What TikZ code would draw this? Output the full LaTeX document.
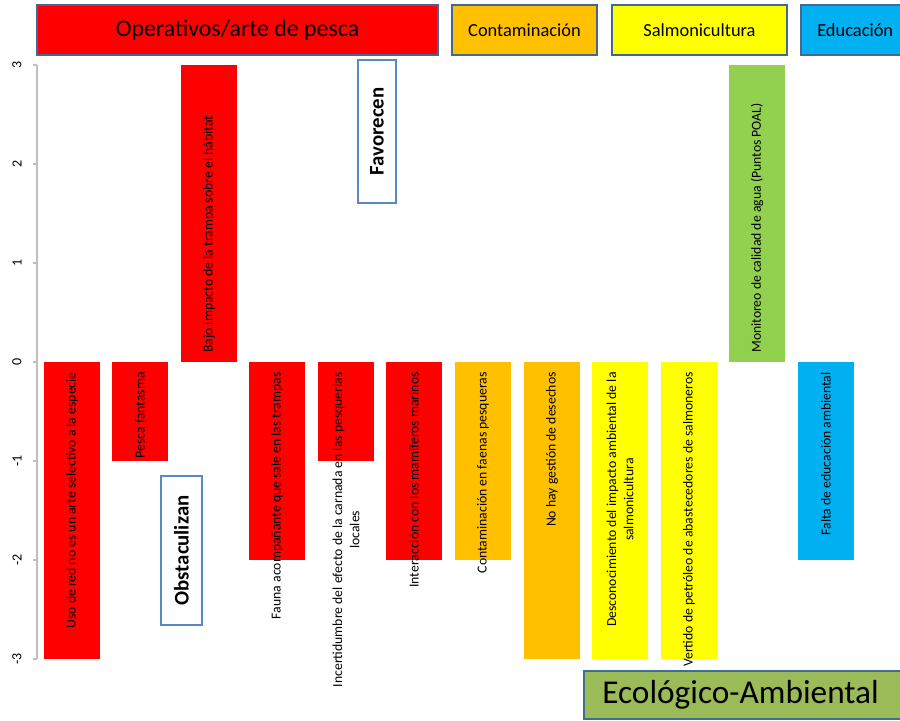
\documentclass[tikz,border=0pt]{standalone}
\usepackage{fontspec}
\setmainfont{Carlito}
\definecolor{cRed}{HTML}{FF0000}
\definecolor{cOrange}{HTML}{FFC000}
\definecolor{cYellow}{HTML}{FFFF00}
\definecolor{cGreen}{HTML}{92D050}
\definecolor{cBlue}{HTML}{00B0F0}
\definecolor{cEco}{HTML}{9BBB59}
\definecolor{cHdrBorder}{HTML}{44679A}
\definecolor{cLblBorder}{HTML}{5A88C2}
\definecolor{cEcoBorder}{HTML}{3F6F8F}
\definecolor{cAxis}{HTML}{BFBFBF}
\begin{document}
\begin{tikzpicture}[x=0.75pt,y=-0.75pt,
  hdr/.style={draw=cHdrBorder, line width=1.6pt},
  hdrtext/.style={inner sep=0pt, text=black},
  lbl/.style={rotate=90, inner sep=0pt, align=center, font=\fontsize{10.3}{12.8}\selectfont},
  tag/.style={draw=cLblBorder, line width=1.5pt, fill=white},
  tagtext/.style={rotate=90, inner sep=0pt, font=\fontsize{15.6}{18}\selectfont\bfseries},
  tick/.style={rotate=90, inner sep=0pt, font=\fontsize{10.5}{12}\selectfont}]
\clip (0,0) rectangle (900,721);
\fill[white] (0,0) rectangle (900,721);

% headers
\draw[hdr, fill=cRed] (37,5) rectangle (438,55);
\node[hdrtext, font=\fontsize{17.9}{20}\selectfont] (hOp) at (237.5,30) {Operativos/arte de pesca};
\draw[hdr, fill=cOrange] (452,5) rectangle (597,55);
\node[hdrtext, font=\fontsize{13.8}{16}\selectfont] (hCo) at (524.5,30) {Contaminación};
\draw[hdr, fill=cYellow] (612,5) rectangle (787,55);
\node[hdrtext, font=\fontsize{13.8}{16}\selectfont] (hSa) at (699.5,30) {Salmonicultura};
\draw[hdr, fill=cBlue] (801,5) rectangle (915,55);
\node[hdrtext, font=\fontsize{13.8}{16}\selectfont, anchor=west] (hEd) at (817,30) {Educación};

% axis
\draw[cAxis, line width=1.1pt] (37,65) -- (37,659);
\foreach \v/\y [count=\i] in {3/65,2/164,1/263,0/362,-1/461,-2/560,-3/659}{
  \draw[cAxis, line width=1.1pt] (33,\y) -- (37,\y);
  \node[tick] (tk\i) at (17,\y) {\v};
}

% bars
\fill[cRed] (44,362) rectangle (100,659);
\fill[cRed] (112,362) rectangle (168,461);
\fill[cRed] (181,65) rectangle (237,362);
\fill[cRed] (249,362) rectangle (305,560);
\fill[cRed] (318,362) rectangle (374,461);
\fill[cRed] (386,362) rectangle (442,560);
\fill[cOrange] (455,362) rectangle (511,560);
\fill[cOrange] (524,362) rectangle (580,659);
\fill[cYellow] (592,362) rectangle (648,659);
\fill[cYellow] (661,362) rectangle (717,659);
\fill[cGreen] (729,65) rectangle (785,362);
\fill[cBlue] (798,362) rectangle (854,560);

% bar labels
\node[lbl, anchor=east] (l1) at (72,372) {Uso de red no es un arte selectivo a la especie};
\node[lbl, anchor=east] (l2) at (140,372) {Pesca fantasma};
\node[lbl, anchor=west] (l3) at (209,353) {Bajo impacto de la trampa sobre el hábitat};
\node[lbl, anchor=east] (l4) at (277,372) {Fauna acompañante que sale en las trampas};
\node[lbl, anchor=east] (l5) at (346,372) {Incertidumbre del efecto de la carnada en las pesquerías\\locales};
\node[lbl, anchor=east] (l6) at (414,372) {Interacción con los mamíferos marinos};
\node[lbl, anchor=east] (l7) at (483,372) {Contaminación en faenas pesqueras};
\node[lbl, anchor=east] (l8) at (552,372) {No hay gestión de desechos};
\node[lbl, anchor=east] (l9) at (620,372) {Desconocimiento del impacto ambiental de la\\salmonicultura};
\node[lbl, anchor=east] (l10) at (689,372) {Vertido de petróleo de abastecedores de salmoneros};
\node[lbl, anchor=west] (l11) at (757,353) {Monitoreo de calidad de agua (Puntos POAL)};
\node[lbl, anchor=east] (l12) at (826,372) {Falta de educación ambiental};

% tags
\draw[tag] (358,60) rectangle (396,203);
\node[tagtext] (tFav) at (377,131.5) {Favorecen};
\draw[tag] (161,476) rectangle (202,625);
\node[tagtext] (tObs) at (181.5,550.5) {Obstaculizan};

% bottom box
\draw[draw=cEcoBorder, line width=1pt, fill=cEco] (584,671) rectangle (915,719);
\node[inner sep=0pt, font=\fontsize{25}{28}\selectfont, anchor=west] (eco) at (602,695) {Ecológico-Ambiental};
\end{tikzpicture}
\end{document}
